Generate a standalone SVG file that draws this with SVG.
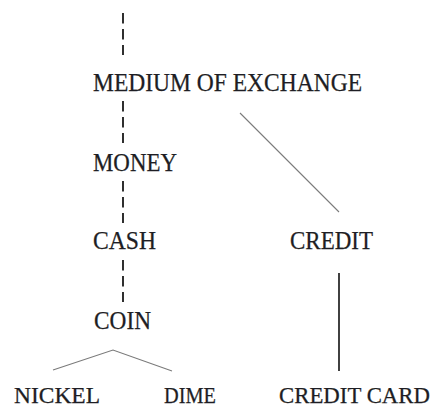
<svg xmlns="http://www.w3.org/2000/svg" width="437" height="412" viewBox="0 0 437 412">
  <style>
    .lbl { font-family: "Liberation Serif", "Times New Roman", serif; font-size: 25px; fill: #1e1e24; stroke: #1e1e24; stroke-width: 0.25; }
    .low { font-size: 24px; }
    .dash { stroke: #1a1a1a; stroke-width: 1.8; stroke-dasharray: 10.5 5.5; fill: none; }
    .thin { stroke: #7a7a7a; stroke-width: 1.1; fill: none; }
    .solid { stroke: #111; stroke-width: 1.6; fill: none; }
  </style>
  <rect width="437" height="412" fill="#ffffff"/>
  <g id="connectors">
    <line class="dash" x1="123" y1="13" x2="123" y2="55"/>
    <line class="dash" x1="123" y1="101" x2="123" y2="143"/>
    <line class="dash" x1="123" y1="181" x2="123" y2="223"/>
    <line class="dash" x1="123" y1="260" x2="123" y2="302"/>
    <line class="thin" x1="240" y1="113" x2="339" y2="212"/>
    <line class="solid" x1="339" y1="273" x2="339" y2="371"/>
    <polyline class="thin" points="53,370 113,350 172,371"/>
  </g>
  <g id="medium-of-exchange">
    <text class="lbl" x="93" y="91" textLength="269" lengthAdjust="spacingAndGlyphs">MEDIUM OF EXCHANGE</text>
  </g>
  <g id="money">
    <text class="lbl" x="93" y="171" textLength="84" lengthAdjust="spacingAndGlyphs">MONEY</text>
  </g>
  <g id="cash">
    <text class="lbl" x="93" y="249" textLength="63" lengthAdjust="spacingAndGlyphs">CASH</text>
  </g>
  <g id="credit">
    <text class="lbl" x="290" y="249" textLength="83" lengthAdjust="spacingAndGlyphs">CREDIT</text>
  </g>
  <g id="coin">
    <text class="lbl" x="94" y="329" textLength="57" lengthAdjust="spacingAndGlyphs">COIN</text>
  </g>
  <g id="nickel">
    <text class="lbl low" x="14" y="403" textLength="86" lengthAdjust="spacingAndGlyphs">NICKEL</text>
  </g>
  <g id="dime">
    <text class="lbl low" x="164" y="403" textLength="52" lengthAdjust="spacingAndGlyphs">DIME</text>
  </g>
  <g id="credit-card">
    <text class="lbl low" x="279" y="403" textLength="151" lengthAdjust="spacingAndGlyphs">CREDIT CARD</text>
  </g>
</svg>
